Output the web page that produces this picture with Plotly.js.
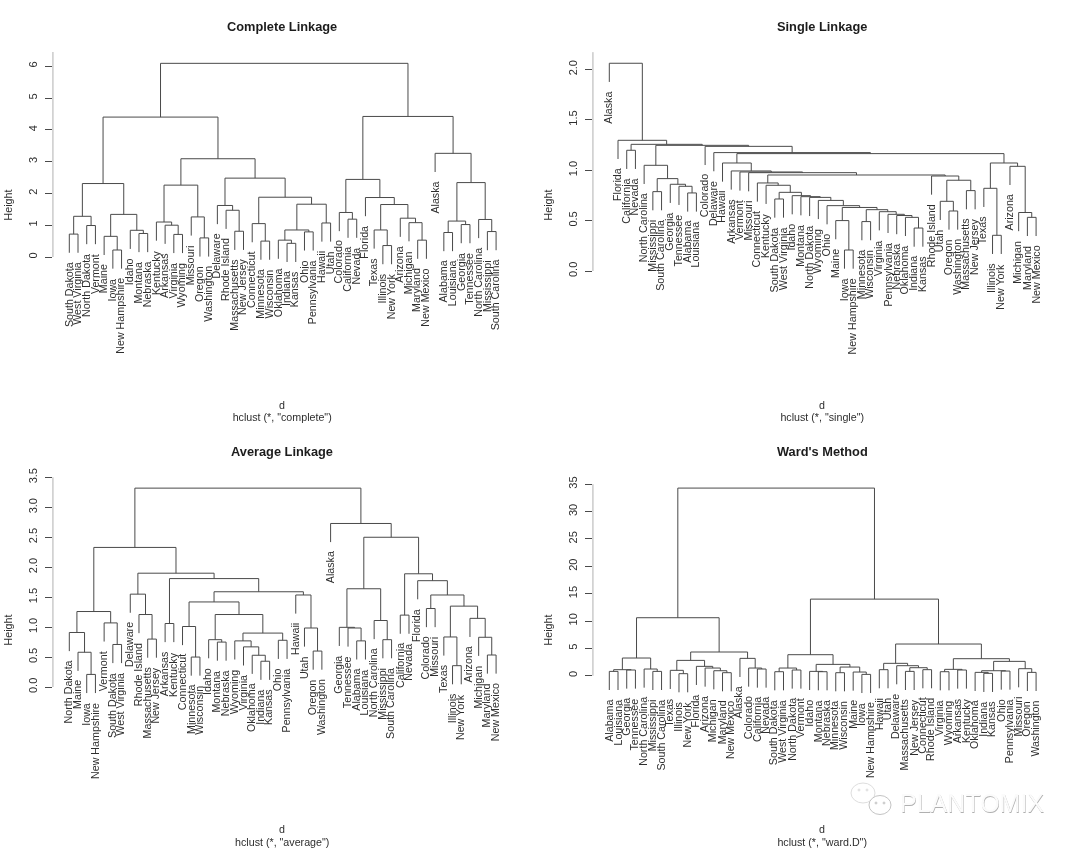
<!DOCTYPE html>
<html>
<head>
<meta charset="utf-8">
<script src="https://cdn.plot.ly/plotly-3.0.1.min.js"></script>
<style>html,body{margin:0;padding:0;background:#fff}#chart{width:1080px;height:848px;filter:blur(0.4px)}</style>
</head>
<body>
<div id="chart"></div>
<script>
// Each tree node is [merge height, left child, right child]; a leaf is a state name.
var completeTree = [6.09,
  [4.40,
    [2.31,
      [1.28, [0.72,"South Dakota","West Virginia"], [0.99,"North Dakota","Vermont"]],
      [1.34, [0.65,"Maine",[0.22,"Iowa","New Hampshire"]], [0.84,"Idaho",[0.74,"Montana","Nebraska"]]]],
    [3.09,
      [2.26,
        [1.10,"Kentucky",[1.00,"Arkansas",[0.71,"Virginia","Wyoming"]]],
        [1.26,"Missouri",[0.60,"Oregon","Washington"]]],
      [2.48,
        [1.62,"Delaware",[1.47,"Rhode Island",[0.81,"Massachusetts","New Jersey"]]],
        [1.88,
          [1.05,"Connecticut",[0.50,"Minnesota","Wisconsin"]],
          [1.66,
            [0.85,[0.53,"Oklahoma",[0.43,"Indiana","Kansas"]],[0.79,"Ohio","Pennsylvania"]],
            [1.07,"Hawaii","Utah"]]]]]],
  [4.42,
    [2.44,
      [1.40,"Colorado",[1.19,"California","Nevada"]],
      [1.87,"Florida",
        [1.65,
          [0.85,"Texas",[0.36,"Illinois","New York"]],
          [1.22,"Arizona",[1.08,"Michigan",[0.53,"Maryland","New Mexico"]]]]]],
    [3.26,"Alaska",
      [2.34,
        [1.13,[0.77,"Alabama","Louisiana"],[1.02,"Georgia","Tennessee"]],
        [1.18,"North Carolina",[0.80,"Mississippi","South Carolina"]]]]]];

var singleTail = [0.63,[0.50,"Maine",[0.208,"Iowa","New Hampshire"]],
  [0.608,[0.49,"Minnesota","Wisconsin"],
    [0.588,"Virginia",[0.562,"Pennsylvania",[0.55,"Nebraska",[0.532,"Oklahoma",[0.426,"Indiana","Kansas"]]]]]]];
var singleChain = [0.873,"Connecticut",[0.85,"Kentucky",[0.78,[0.714,"South Dakota","West Virginia"],
  [0.747,"Idaho",[0.737,"Montana",[0.73,"North Dakota",[0.70,"Wyoming",[0.648,"Ohio",singleTail]]]]]]]];
var singleRhode = [0.942,"Rhode Island",[0.90,[0.691,"Utah",[0.595,"Oregon","Washington"]],[0.797,"Massachusetts","New Jersey"]]];
var singleMid = [1.071,"Hawaii",[0.992,"Arkansas",[0.982,"Vermont",[0.975,"Missouri",[0.952,singleChain,singleRhode]]]]];
var singleSouth = [1.048,"North Carolina",[0.916,[0.787,"Mississippi","South Carolina"],
  [0.86,"Georgia",[0.84,"Tennessee",[0.774,"Alabama","Louisiana"]]]]];
var singleWest = [1.071,[0.82,"Texas",[0.354,"Illinois","New York"]],
  [1.038,"Arizona",[0.58,"Michigan",[0.532,"Maryland","New Mexico"]]]];
var singleTree = [2.06,"Alaska",[1.296,"Florida",[1.256,[1.197,"California","Nevada"],
  [1.246,singleSouth,[1.236,"Colorado",[1.174,"Delaware",[1.164,singleMid,singleWest]]]]]]];

var averageTree = [3.32,
  [2.33,
    [1.26,
      [0.91,"North Dakota",[0.58,"Maine",[0.21,"Iowa","New Hampshire"]]],
      [1.07,"Vermont",[0.71,"South Dakota","West Virginia"]]],
    [1.90,
      [1.55,"Delaware",[1.21,"Rhode Island",[0.80,"Massachusetts","New Jersey"]]],
      [1.81,[1.06,"Arkansas","Kentucky"],
        [1.59,
          [1.42,
            [1.01,"Connecticut",[0.50,"Minnesota","Wisconsin"]],
            [1.21,
              [0.79,"Idaho",[0.75,"Montana","Nebraska"]],
              [0.90,
                [0.77,"Wyoming",[0.67,"Virginia",[0.53,"Oklahoma",[0.43,"Indiana","Kansas"]]]],
                [0.78,"Ohio","Pennsylvania"]]]],
          [1.536,"Hawaii",[0.985,"Utah",[0.60,"Oregon","Washington"]]]]]]],
  [2.73,"Alaska",
    [2.50,
      [1.64,
        [0.996,"Georgia",[0.985,"Tennessee",[0.77,"Alabama","Louisiana"]]],
        [1.11,"North Carolina",[0.79,"Mississippi","South Carolina"]]],
      [1.89,[1.20,"California","Nevada"],
        [1.775,"Florida",
          [1.536,[1.31,"Colorado","Missouri"],
            [1.35,
              [0.835,"Texas",[0.356,"Illinois","New York"]],
              [1.146,"Arizona",[0.83,"Michigan",[0.534,"Maryland","New Mexico"]]]]]]]]]];

var wardTree = [34.3,
  [10.6,
    [3.23,
      [1.10,[0.79,"Alabama","Louisiana"],[1.04,"Georgia","Tennessee"]],
      [1.22,"North Carolina",[0.79,"Mississippi","South Carolina"]]],
    [4.33,
      [2.80,
        [0.98,"Texas",[0.37,"Illinois","New York"]],
        [1.71,"Florida",[1.40,"Arizona",[0.91,"Michigan",[0.55,"Maryland","New Mexico"]]]]],
      [3.17,"Alaska",[1.40,"Colorado",[1.22,"California","Nevada"]]]]],
  [14.0,
    [3.84,
      [1.40,[0.73,"South Dakota","West Virginia"],[1.04,"North Dakota","Vermont"]],
      [2.07,
        [0.79,"Idaho",[0.73,"Montana","Nebraska"]],
        [1.58,[0.55,"Minnesota","Wisconsin"],[0.67,"Maine",[0.24,"Iowa","New Hampshire"]]]]],
    [5.79,
      [2.26,[1.10,"Hawaii","Utah"],
        [1.83,"Delaware",[1.46,[0.79,"Massachusetts","New Jersey"],[1.10,"Connecticut","Rhode Island"]]]],
      [3.11,
        [1.16,[0.73,"Virginia","Wyoming"],[1.04,"Arkansas","Kentucky"]],
        [2.62,
          [0.91,[0.61,"Oklahoma",[0.43,"Indiana","Kansas"]],[0.85,"Ohio","Pennsylvania"]],
          [1.28,"Missouri",[0.61,"Oregon","Washington"]]]]]]];

var panelTitles = ["Complete Linkage","Single Linkage","Average Linkage","Ward's Method"];
var methodTitles = ['hclust (*, "complete")','hclust (*, "single")','hclust (*, "average")','hclust (*, "ward.D")'];
var trees = [completeTree, singleTree, averageTree, wardTree];
var tickValues = [[0,1,2,3,4,5,6],[0,0.5,1,1.5,2],[0,0.5,1,1.5,2,2.5,3,3.5],[0,5,10,15,20,25,30,35]];
var tickLabels = [["0","1","2","3","4","5","6"],["0.0","0.5","1.0","1.5","2.0"],["0.0","0.5","1.0","1.5","2.0","2.5","3.0","3.5"],["0","5","10","15","20","25","30","35"]];
var axisTops = [6.45, 2.17, 3.5, 35];

// Page geometry, in pixels
var W = 1080, H = 848;
var frames = [
  {left:52.7,  top:52,    bottom:358, zero:257,   unit:31.8,  titleY:27,  dY:405, standoff:55},
  {left:592.7, top:52,    bottom:358, zero:271,   unit:100.85,titleY:27,  dY:405, standoff:55},
  {left:52.7,  top:477,   bottom:783, zero:687,   unit:59.9,  titleY:451, dY:829, standoff:55},
  {left:592.7, top:484,   bottom:776, zero:675.7, unit:5.47,  titleY:451, dY:829, standoff:62}
];
var leafStep = 8.71, firstLeafOffset = 16.6, frameWidth = 459;
var FONT = '"Liberation Sans", Arial, sans-serif';
var INK = '#2e2e2e', LINE = '#4a4a4a';
var TEXT_SIZE = 10.7;

function heights(node, out) {
  if (typeof node === 'string') return out;
  out.push(node[0]); heights(node[1], out); heights(node[2], out);
  return out;
}

function layoutTree(tree) {
  var hs = heights(tree, []);
  var hang = 0.1 * (Math.max.apply(null, hs) - Math.min.apply(null, hs));
  var xs = [], ys = [], leaves = [], next = 1;
  function walk(node, parentH) {
    if (typeof node === 'string') {
      var p = {x: next++, top: parentH - hang};
      leaves.push({name: node, x: p.x, y: p.top});
      return p;
    }
    var a = walk(node[1], node[0]), b = walk(node[2], node[0]);
    xs.push(a.x, a.x, b.x, b.x, null);
    ys.push(a.top, node[0], node[0], b.top, null);
    return {x: (a.x + b.x) / 2, top: node[0]};
  }
  walk(tree, tree[0]);
  return {xs: xs, ys: ys, leaves: leaves};
}

var data = [], annotations = [], layout = {
  width: W, height: H, autosize: false, showlegend: false,
  margin: {l:0, r:0, t:0, b:0, pad:0},
  paper_bgcolor: '#fff', plot_bgcolor: '#fff',
  font: {family: FONT, size: TEXT_SIZE, color: INK},
  hovermode: false
};

trees.forEach(function (tree, k) {
  var f = frames[k], s = k === 0 ? '' : String(k + 1), built = layoutTree(tree);
  var xMin = 1 - firstLeafOffset / leafStep;
  var xMax = xMin + frameWidth / leafStep;
  var yMin = (f.zero - f.bottom) / f.unit, yMax = (f.zero - f.top) / f.unit;

  data.push({type:'scatter', mode:'lines', x:built.xs, y:built.ys, xaxis:'x'+s, yaxis:'y'+s,
    line:{color:LINE, width:1}, connectgaps:false, cliponaxis:false, hoverinfo:'skip'});
  data.push({type:'scatter', mode:'lines', x:[xMin,xMin], y:[0,axisTops[k]], xaxis:'x'+s, yaxis:'y'+s,
    line:{color:LINE, width:1}, cliponaxis:false, hoverinfo:'skip'});

  layout['xaxis'+s] = {
    domain:[f.left/W, (f.left+frameWidth)/W], range:[xMin,xMax], anchor:'y'+s,
    showgrid:false, zeroline:false, showline:false, ticks:'', showticklabels:false, fixedrange:true,
    title:{text:methodTitles[k], font:{size:TEXT_SIZE, color:INK, family:FONT}, standoff:f.standoff}
  };
  layout['yaxis'+s] = {
    domain:[1-f.bottom/H, 1-f.top/H], range:[yMin,yMax], anchor:'x'+s,
    showgrid:false, zeroline:false, showline:false,
    ticks:'outside', ticklen:6.5, tickwidth:1, tickcolor:LINE,
    tickmode:'array', tickvals:tickValues[k], ticktext:tickLabels[k], tickangle:-90,
    ticklabelstandoff:4,
    tickfont:{size:11, color:INK, family:FONT}, fixedrange:true,
    title:{text:'Height', font:{size:TEXT_SIZE, color:INK, family:FONT}, standoff:12}
  };

  built.leaves.forEach(function (l) {
    annotations.push({xref:'x'+s, yref:'y'+s, x:l.x, y:l.y, text:l.name, showarrow:false,
      textangle:-90, xanchor:'center', yanchor:'top', xshift:-1, yshift:-8.5, borderpad:0,
      font:{size:TEXT_SIZE, color:INK, family:FONT}});
  });
  annotations.push({xref:'paper', yref:'paper', x:(f.left+frameWidth/2)/W, y:1-f.titleY/H,
    text:'<b>'+panelTitles[k]+'</b>', showarrow:false, xanchor:'center', yanchor:'middle',
    font:{size:12.8, color:'#1c1c1c', family:FONT}});
  annotations.push({xref:'paper', yref:'paper', x:(f.left+frameWidth/2)/W, y:1-f.dY/H,
    text:'d', showarrow:false, xanchor:'center', yanchor:'middle',
    font:{size:TEXT_SIZE, color:INK, family:FONT}});
});

// Watermark in the lower right corner
annotations.push({xref:'paper', yref:'paper', x:972.5/W, y:1-803/H, text:'PLANTOMIX', showarrow:false,
  xanchor:'center', yanchor:'middle',
  font:{size:25, color:'#fbfbfb', family:FONT, shadow:'0.5px 0.5px 0.5px #b0b0b0'}});
function ring(cx, cy, rx, ry, stroke, fill) {
  return {type:'circle', xref:'paper', yref:'paper', x0:(cx-rx)/W, x1:(cx+rx)/W, y0:1-(cy+ry)/H, y1:1-(cy-ry)/H,
    line:{color:stroke, width:1}, fillcolor:fill};
}
layout.shapes = [
  ring(863,793,12,10,'#dedede','#ffffff'), ring(880,805,11,9.5,'#c4c4c4','#ffffff'),
  ring(859,790,1,1,'#e2e2e2','#e2e2e2'), ring(867,790,1,1,'#e2e2e2','#e2e2e2'),
  ring(876,803,1,1,'#cccccc','#cccccc'), ring(884,803,1,1,'#cccccc','#cccccc')
];
layout.annotations = annotations;

Plotly.newPlot('chart', data, layout, {displayModeBar:false, staticPlot:true});
</script>
</body>
</html>
